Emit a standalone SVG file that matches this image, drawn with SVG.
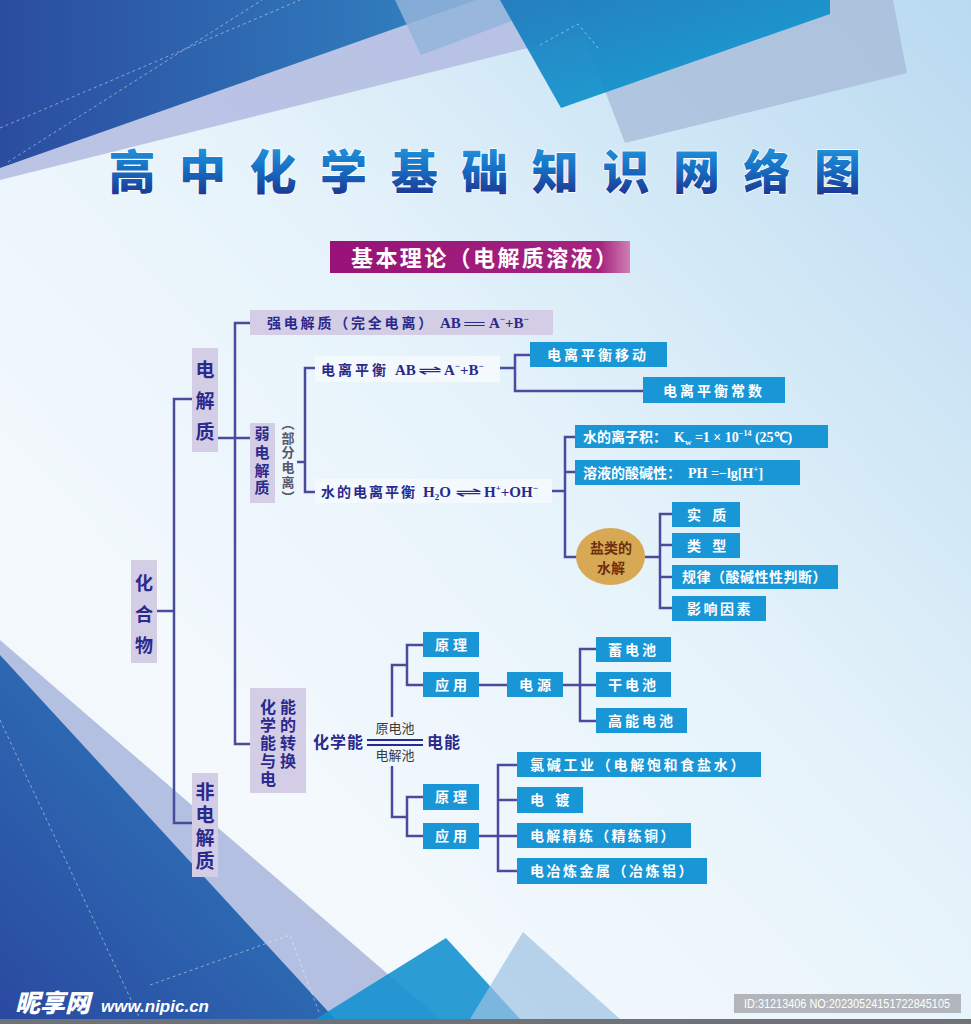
<svg xmlns="http://www.w3.org/2000/svg" width="971" height="1024" viewBox="0 0 971 1024">
<defs>
<linearGradient id="bg" x1="1" y1="0" x2="0" y2="1">
<stop offset="0" stop-color="#b9daf0"/>
<stop offset="0.45" stop-color="#e6f3fb"/>
<stop offset="0.75" stop-color="#f4f9fd"/>
<stop offset="1" stop-color="#edf5fb"/>
</linearGradient>
<linearGradient id="dk" x1="0" y1="0" x2="1" y2="0">
<stop offset="0" stop-color="#2b4c9f"/>
<stop offset="1" stop-color="#3185c3"/>
</linearGradient>
<linearGradient id="dk2" x1="0" y1="1" x2="1" y2="0">
<stop offset="0" stop-color="#2a49a0"/>
<stop offset="1" stop-color="#2f86c3"/>
</linearGradient>
<linearGradient id="teal" x1="0" y1="0" x2="1" y2="1">
<stop offset="0" stop-color="#1a78bd"/>
<stop offset="1" stop-color="#0aa2d4"/>
</linearGradient>
<linearGradient id="tg" x1="0" y1="0" x2="0" y2="1">
<stop offset="0" stop-color="#2aa6e8"/>
<stop offset="0.5" stop-color="#1670c4"/>
<stop offset="1" stop-color="#1c2585"/>
</linearGradient>
<linearGradient id="hb" x1="0" y1="0" x2="1" y2="0">
<stop offset="0" stop-color="#981277"/>
<stop offset="0.9" stop-color="#a4247f"/>
<stop offset="1" stop-color="#cf7fb4"/>
</linearGradient>
<style>
.lav{fill:#d4cde6}
.blu{fill:#1996d6}
.wht{fill:#f4f9fd;fill-opacity:0.9}
.nv{font-family:'Noto Sans CJK SC',sans-serif;font-weight:700;fill:#2a2a8c}
.wt{font-family:'Noto Sans CJK SC',sans-serif;font-weight:700;fill:#ffffff;font-size:14px}
.sf{font-family:'Liberation Serif',serif;font-weight:700}
.ar{font-family:'DejaVu Sans',sans-serif;font-weight:400}
.cn{fill:none;stroke:#4a4b9d;stroke-width:2.5}
.dash{fill:none;stroke:#ffffff;stroke-opacity:0.45;stroke-width:1;stroke-dasharray:3 3}
</style>
</defs>

<!-- background -->
<rect x="0" y="0" width="971" height="1024" fill="url(#bg)"/>
<g id="decor-top">
<polygon points="0,180 0,150 466,0 620,0 600,30" fill="#b3bbe0" fill-opacity="0.85"/>
<polygon points="0,0 476,0 0,168" fill="url(#dk)"/>
<polygon points="395,0 421,55 515,20 505,0" fill="#93b4db" fill-opacity="0.85"/>
<polygon points="570,0 893,0 907,73 625,143" fill="#a6b9d7" fill-opacity="0.75"/>
<polygon points="500,0 830,0 830,14 561,108" fill="url(#teal)" fill-opacity="0.92"/>
<line class="dash" x1="0" y1="128" x2="300" y2="0"/>
<line class="dash" x1="8" y1="162" x2="262" y2="0"/>
<polyline class="dash" points="540,45 578,24 598,48"/>
</g>
<g id="decor-bottom">
<polygon points="0,640 0,1019 440,1019" fill="#a9b6dc" fill-opacity="0.85"/>
<polygon points="0,655 0,1019 335,1019" fill="url(#dk2)"/>
<polygon points="446,938 316,1019 520,1019" fill="#1591cf" fill-opacity="0.9"/>
<polygon points="523,932 470,1019 620,1019" fill="#9cc2e2" fill-opacity="0.7"/>
<line class="dash" x1="0" y1="720" x2="140" y2="1019"/>
<polyline class="dash" points="150,985 290,935 320,1015"/>
<rect x="0" y="1019" width="971" height="5" fill="#6f7378"/>
</g>

<!-- title -->
<g id="title">
<text x="132 202.5 273 343.6 414.2 484.8 555.3 625.9 696.5 767 837.5" y="189" font-size="47" text-anchor="middle" font-family="'Noto Sans CJK SC',sans-serif" font-weight="900" fill="url(#tg)" stroke="#ffffff" stroke-width="1.5" paint-order="stroke">高中化学基础知识网络图</text>
</g>
<g id="header">
<rect x="330" y="241" width="300" height="32" fill="url(#hb)"/>
<text x="351" y="266" font-size="22" letter-spacing="2.4" font-family="'Noto Sans CJK SC',sans-serif" font-weight="700" fill="#ffffff">基本理论（电解质溶液）</text>
</g>

<!-- connectors -->
<g id="connectors" class="cn">
<polyline points="157,611 174,611"/>
<polyline points="192,399 174,399 174,823 192,823"/>
<polyline points="218,438 250,438"/>
<polyline points="250,323 235,323 235,744 250,744"/>
<polyline points="297,462 305,462"/>
<polyline points="315,368 305,368 305,492 315,492"/>
<polyline points="500,368 515,368"/>
<polyline points="530,355 515,355 515,391 643,391"/>
<polyline points="552,491 565,491"/>
<polyline points="575,437 565,437 565,557 577,557"/>
<polyline points="565,472 575,472"/>
<polyline points="645,557 660,557"/>
<polyline points="672,514 660,514 660,608 672,608"/>
<polyline points="660,545 672,545"/>
<polyline points="660,577 672,577"/>
<polyline points="392,717 392,665 407,665"/>
<polyline points="423,645 407,645 407,685 423,685"/>
<polyline points="392,766 392,817 407,817"/>
<polyline points="423,797 407,797 407,836 423,836"/>
<polyline points="479,685 507,685"/>
<polyline points="563,685 580,685"/>
<polyline points="596,649 580,649 580,721 596,721"/>
<polyline points="580,685 596,685"/>
<polyline points="479,836 498,836"/>
<polyline points="517,765 498,765 498,871 517,871"/>
<polyline points="498,800 517,800"/>
<polyline points="498,836 517,836"/>
</g>

<!-- nodes -->
<g id="n-huahewu">
<rect class="lav" x="131" y="560" width="26" height="103"/>
<text class="nv" font-size="18" text-anchor="middle" x="144 144 144" y="590 621 652">化合物</text>
</g>
<g id="n-dianjiezhi">
<rect class="lav" x="192" y="348" width="26" height="104"/>
<text class="nv" font-size="19" text-anchor="middle" x="205 205 205" y="377 408 439">电解质</text>
</g>
<g id="n-feidianjiezhi">
<rect class="lav" x="192" y="773" width="26" height="104"/>
<text class="nv" font-size="19" text-anchor="middle" x="205 205 205 205" y="799 822 845 868">非电解质</text>
</g>
<g id="n-qiang">
<rect class="lav" x="250" y="310" width="303" height="25"/>
<text class="nv" font-size="14" x="267" y="328" letter-spacing="2.8">强电解质（完全电离）</text>
<text class="nv sf" font-size="15" x="440" y="328">AB</text>
<text class="nv sf" font-size="15" x="462" y="329" textLength="25" lengthAdjust="spacingAndGlyphs">=</text>
<text class="nv sf" font-size="15" x="489" y="328">A<tspan font-size="9" dy="-6">−</tspan><tspan dy="6">+B</tspan><tspan font-size="9" dy="-6">−</tspan></text>
</g>
<g id="n-ruo">
<rect class="lav" x="250" y="423" width="25" height="80"/>
<text class="nv" font-size="15" text-anchor="middle" x="262 262 262 262" y="439 458 476 493">弱电解质</text>
<text font-family="'Noto Sans CJK SC',sans-serif" font-weight="700" fill="#585868" font-size="13" text-anchor="middle" x="288 288 288 288 288 288" y="428 443 457 472 487 502">︵部分电离︶</text>
</g>
<g id="n-dlph">
<rect class="wht" x="315" y="356" width="185" height="26"/>
<text class="nv" font-size="14" x="321" y="375" letter-spacing="3">电离平衡</text>
<text class="nv sf" font-size="15" x="395" y="375">AB</text>
<text class="nv ar" font-size="14" x="418" y="375" textLength="24" lengthAdjust="spacingAndGlyphs">⇌</text>
<text class="nv sf" font-size="15" x="444" y="375">A<tspan font-size="9" dy="-6">−</tspan><tspan dy="6">+B</tspan><tspan font-size="9" dy="-6">−</tspan></text>
</g>
<g id="n-sdlph">
<rect class="wht" x="315" y="479" width="237" height="24"/>
<text class="nv" font-size="14" x="321" y="497" letter-spacing="2">水的电离平衡</text>
<text class="nv sf" font-size="15" x="423" y="497">H<tspan font-size="9" dy="3">2</tspan><tspan dy="-3">O</tspan></text>
<text class="nv ar" font-size="14" x="455" y="497" textLength="27" lengthAdjust="spacingAndGlyphs">⇌</text>
<text class="nv sf" font-size="15" x="484" y="497">H<tspan font-size="9" dy="-6">+</tspan><tspan dy="6">+OH</tspan><tspan font-size="9" dy="-6">−</tspan></text>
</g>
<g id="n-yidong">
<rect class="blu" x="530" y="342" width="137" height="25"/>
<text class="wt" x="547" y="360" letter-spacing="3">电离平衡移动</text>
</g>
<g id="n-changshu">
<rect class="blu" x="643" y="377" width="142" height="26"/>
<text class="wt" x="663" y="396" letter-spacing="3">电离平衡常数</text>
</g>
<g id="n-lizji">
<rect class="blu" x="575" y="425" width="253" height="23"/>
<text class="wt" x="583" y="442">水的离子积：</text>
<text class="wt sf" font-size="15" x="674" y="442">K<tspan font-size="9" dy="3">w</tspan><tspan dy="-3"> =1 × 10</tspan><tspan font-size="8" dy="-6">−14</tspan><tspan dy="6"> (25℃)</tspan></text>
</g>
<g id="n-suanjian">
<rect class="blu" x="575" y="460" width="225" height="25"/>
<text class="wt" x="583" y="478">溶液的酸碱性：</text>
<text class="wt sf" font-size="16" x="688" y="478">PH =−lg[H<tspan font-size="9" dy="-6">+</tspan><tspan dy="6">]</tspan></text>
</g>
<g id="n-yanlei">
<ellipse cx="610.5" cy="556.5" rx="34.5" ry="28.5" fill="#d8a954"/>
<text font-family="'Noto Sans CJK SC',sans-serif" font-weight="700" fill="#6e2f0e" font-size="14" text-anchor="middle" x="611" y="553">盐类的</text>
<text font-family="'Noto Sans CJK SC',sans-serif" font-weight="700" fill="#6e2f0e" font-size="14" text-anchor="middle" x="611" y="573">水解</text>
</g>
<g id="n-shizhi">
<rect class="blu" x="672" y="502" width="68" height="25"/>
<text class="wt" x="687" y="520" letter-spacing="4" xml:space="preserve">实 质</text>
</g>
<g id="n-leixing">
<rect class="blu" x="672" y="533" width="68" height="25"/>
<text class="wt" x="687" y="551" letter-spacing="4" xml:space="preserve">类 型</text>
</g>
<g id="n-guilv">
<rect class="blu" x="672" y="565" width="166" height="24"/>
<text class="wt" x="682" y="582" letter-spacing="0.5">规律（酸碱性性判断）</text>
</g>
<g id="n-yingxiang">
<rect class="blu" x="672" y="596" width="94" height="25"/>
<text class="wt" x="687" y="614" letter-spacing="2.5">影响因素</text>
</g>
<g id="n-zhuanhuan">
<rect class="lav" x="250" y="688" width="56" height="105"/>
<text class="nv" font-size="16" text-anchor="middle" x="268 268 268 268 268" y="713 731 749 767 785">化学能与电</text>
<text class="nv" font-size="16" text-anchor="middle" x="288 288 288 288" y="713 731 749 767">能的转换</text>
</g>
<g id="n-huaxueneng">
<text class="nv" font-size="16" x="313" y="748" letter-spacing="1">化学能</text>
<line x1="367" y1="740" x2="423" y2="740" stroke="#2a2a8c" stroke-width="1.8"/>
<line x1="367" y1="745" x2="423" y2="745" stroke="#2a2a8c" stroke-width="1.8"/>
<text font-family="'Noto Sans CJK SC',sans-serif" font-weight="400" fill="#3a3a3a" font-size="13" text-anchor="middle" x="395" y="733">原电池</text>
<text font-family="'Noto Sans CJK SC',sans-serif" font-weight="400" fill="#3a3a3a" font-size="13" text-anchor="middle" x="395" y="760">电解池</text>
<text class="nv" font-size="16" x="427" y="748" letter-spacing="1">电能</text>
</g>
<g id="n-yuanli1">
<rect class="blu" x="423" y="632" width="56" height="25"/>
<text class="wt" x="435" y="650" letter-spacing="4">原理</text>
</g>
<g id="n-yingyong1">
<rect class="blu" x="423" y="672" width="56" height="25"/>
<text class="wt" x="435" y="690" letter-spacing="4">应用</text>
</g>
<g id="n-dianyuan">
<rect class="blu" x="507" y="672" width="56" height="25"/>
<text class="wt" x="519" y="690" letter-spacing="4">电源</text>
</g>
<g id="n-xudianchi">
<rect class="blu" x="596" y="637" width="75" height="25"/>
<text class="wt" x="608" y="655" letter-spacing="3">蓄电池</text>
</g>
<g id="n-gandianchi">
<rect class="blu" x="596" y="672" width="75" height="25"/>
<text class="wt" x="608" y="690" letter-spacing="3">干电池</text>
</g>
<g id="n-gaoneng">
<rect class="blu" x="596" y="708" width="91" height="25"/>
<text class="wt" x="608" y="726" letter-spacing="3">高能电池</text>
</g>
<g id="n-yuanli2">
<rect class="blu" x="423" y="784" width="56" height="26"/>
<text class="wt" x="435" y="802" letter-spacing="4">原理</text>
</g>
<g id="n-yingyong2">
<rect class="blu" x="423" y="823" width="56" height="26"/>
<text class="wt" x="435" y="841" letter-spacing="4">应用</text>
</g>
<g id="n-lvjian">
<rect class="blu" x="517" y="752" width="244" height="25"/>
<text class="wt" x="530" y="770" letter-spacing="2.7">氯碱工业（电解饱和食盐水）</text>
</g>
<g id="n-diandu">
<rect class="blu" x="517" y="787" width="66" height="26"/>
<text class="wt" x="530" y="805" letter-spacing="4" xml:space="preserve">电 镀</text>
</g>
<g id="n-jinglian">
<rect class="blu" x="517" y="823" width="174" height="25"/>
<text class="wt" x="530" y="841" letter-spacing="2.3">电解精练（精练铜）</text>
</g>
<g id="n-yelian">
<rect class="blu" x="517" y="858" width="190" height="26"/>
<text class="wt" x="530" y="876" letter-spacing="2.5">电冶炼金属（冶炼铝）</text>
</g>

<!-- watermark -->
<g id="watermark">
<text x="15" y="1012" font-size="25" font-family="'Noto Sans CJK SC',sans-serif" font-weight="900" font-style="italic" fill="#ffffff">昵享网</text>
<text x="101" y="1012" font-size="17" font-family="'Liberation Sans',sans-serif" font-weight="700" font-style="italic" fill="#ffffff">www.nipic.cn</text>
<rect x="734" y="994" width="227" height="19" fill="#b2b6bb"/>
<text x="744" y="1008" font-size="12" font-family="'Liberation Sans',sans-serif" fill="#ffffff" textLength="206" lengthAdjust="spacingAndGlyphs">ID:31213406 NO:20230524151722845105</text>
</g>
</svg>
